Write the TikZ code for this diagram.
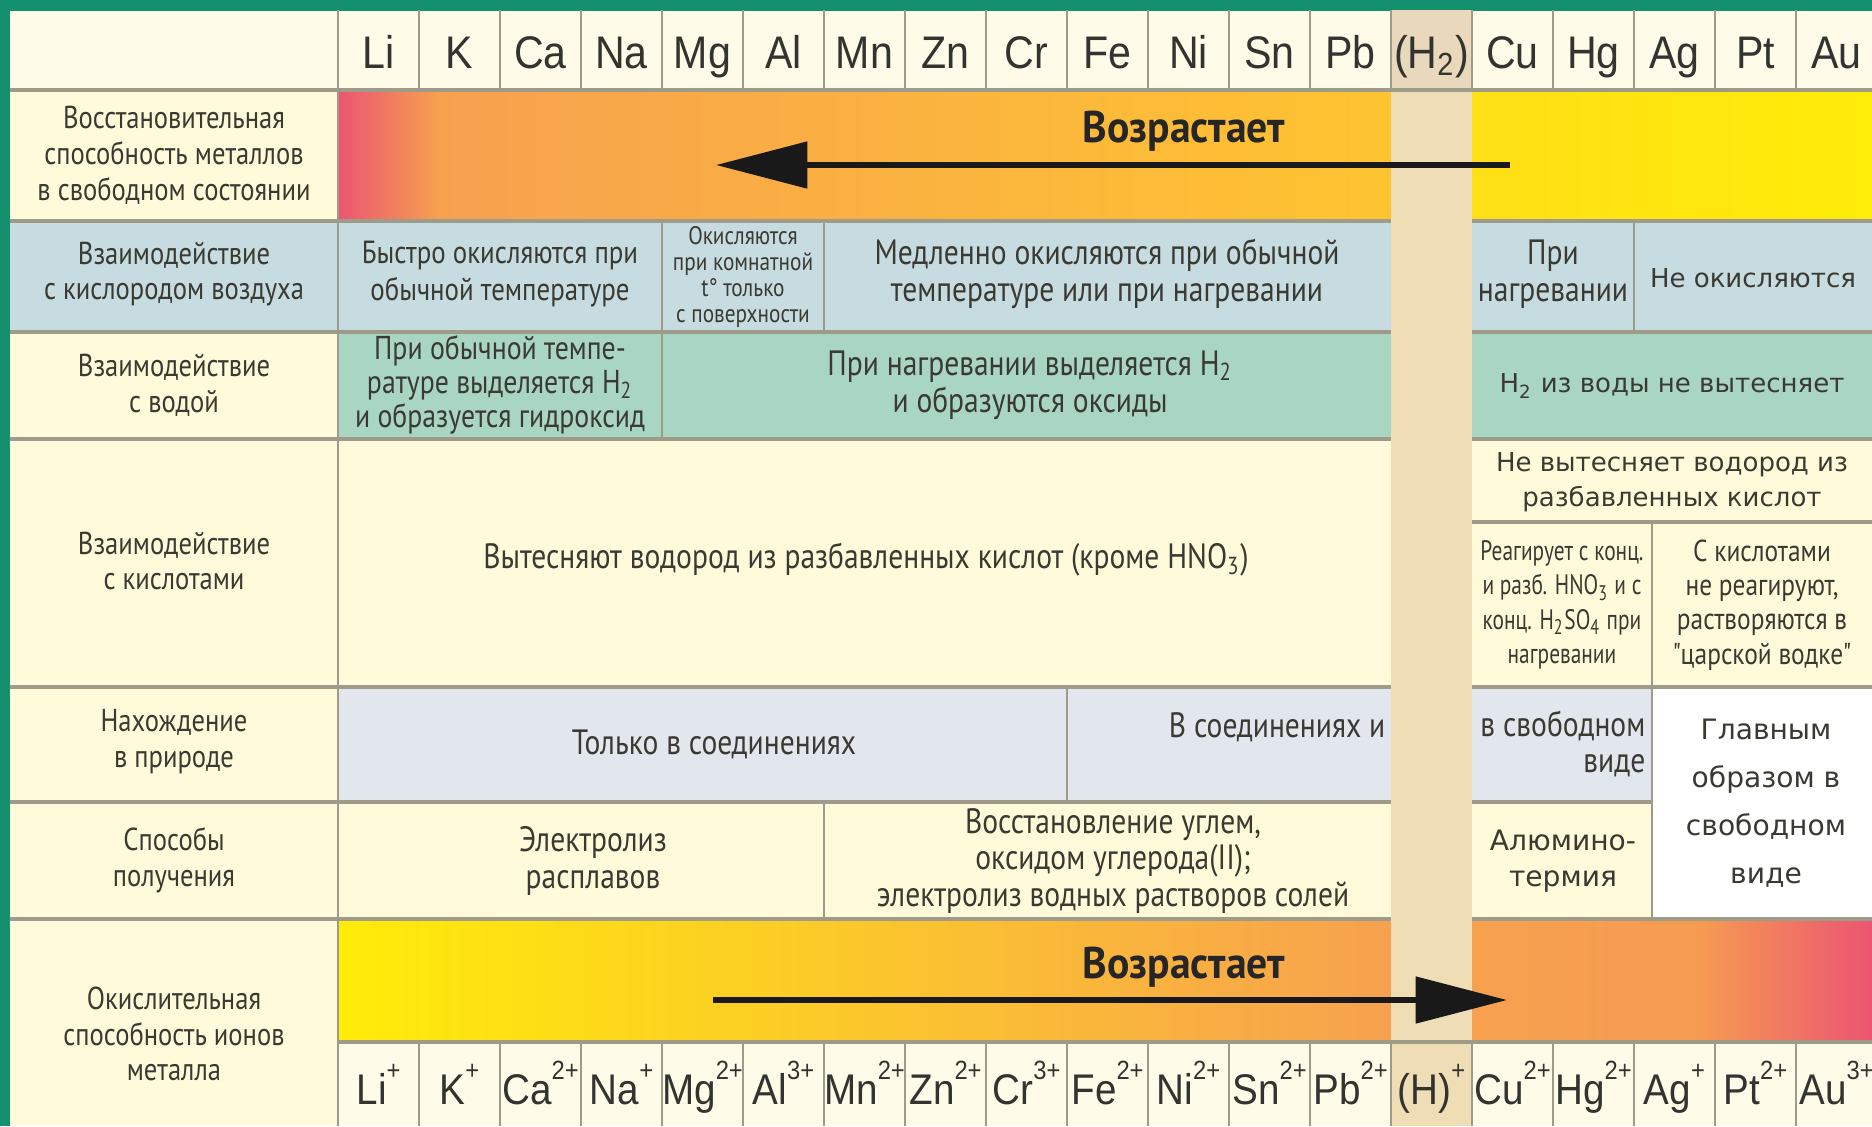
\documentclass[tikz,border=0pt]{standalone}
\usepackage{fontspec}
\setmainfont{PT Sans}
\newfontfamily\narrowfont[FakeStretch=0.84]{PT Sans}
\newfontfamily\tightfont[FakeStretch=0.76]{PT Sans}
\newfontfamily\risefont[FakeStretch=0.94]{PT Sans}
\newfontfamily\symfont[FakeStretch=0.9]{Liberation Sans}
\newfontfamily\widefont{DejaVu Sans}
\usetikzlibrary{arrows.meta}

\definecolor{framegreen}{HTML}{14906F}
\definecolor{framelight}{HTML}{B2D98A}
\definecolor{cream}{HTML}{FFFBDA}
\definecolor{headcream}{HTML}{FEFBE8}
\definecolor{airblue}{HTML}{C7DCE0}
\definecolor{watergreen}{HTML}{A9D5C3}
\definecolor{naturegray}{HTML}{E2E7ED}
\definecolor{hband}{HTML}{EEDDB5}
\definecolor{hcell}{HTML}{E9D8BB}
\definecolor{gridline}{HTML}{9E9B8A}
\definecolor{inktext}{HTML}{3B3A32}
\definecolor{elemtext}{HTML}{333330}
\definecolor{redstop}{HTML}{EB5572}
\definecolor{orangestop}{HTML}{F7A14F}
\definecolor{goldstop}{HTML}{FEC430}
\definecolor{lemonstop}{HTML}{FFDF16}
\definecolor{yellowstop}{HTML}{FFEC08}

\newcommand{\colW}[0]{81}
\newcommand{\ioncharge}[1]{\raisebox{7pt}{\fontsize{7.5}{7.5}\selectfont#1}}

\begin{document}
\begin{tikzpicture}[x=0.01cm, y=-0.01cm]
  \tikzset{
    cell/.style={align=center, inner sep=0pt, text=inktext,
      font=\narrowfont\fontsize{10}{10.4}\selectfont},
    rowlabel/.style={cell, font=\narrowfont\fontsize{9}{10.2}\selectfont},
    tinycell/.style={cell, font=\narrowfont\fontsize{7.2}{7.4}\selectfont},
    tightcell/.style={cell, font=\tightfont\fontsize{8}{9.8}\selectfont},
    widecell/.style={cell, font=\widefont\fontsize{7.4}{9.8}\selectfont},
    elem/.style={inner sep=0pt, anchor=base, text=elemtext,
      font=\symfont\fontsize{13}{13}\selectfont},
    ion/.style={elem, font=\symfont\fontsize{12.2}{12.2}\selectfont},
    risetext/.style={inner sep=0pt, text=black!85,
      font=\risefont\bfseries\fontsize{12.6}{13}\selectfont},
    bigarrow/.style={line width=1.7pt, black!90,
      -{Triangle[length=26pt, width=13pt]}},
    rowline/.style={gridline, line width=0.9pt},
    colline/.style={gridline, line width=0.5pt}
  }
  \useasboundingbox (0,0) rectangle (1872,1126);

  \fill[cream] (0,0) rectangle (1872,1126);
  \fill[headcream] (10,10) rectangle (1872,90);
  \fill[airblue] (10,221) rectangle (1872,332);
  \fill[watergreen] (338,332) rectangle (1872,439);
  \fill[naturegray] (338,687) rectangle (1652,802);
  \fill[white] (1652,687) rectangle (1872,919);
  \fill[headcream] (338,1042) rectangle (1872,1126);
  \fill[framegreen] (0,0) rectangle (10,1126);
  \shade[left color=framegreen, middle color=framelight, right color=framegreen] (0,0) rectangle (1872,10);

  \shade[left color=redstop, right color=orangestop] (338,90) rectangle (440,221);
  \shade[left color=orangestop, right color=goldstop] (440,90) rectangle (1391,221);
  \shade[left color=lemonstop, right color=yellowstop] (1472,90) rectangle (1872,221);
  \shade[left color=yellowstop, middle color=goldstop!80!yellowstop, right color=orangestop] (338,919) rectangle (1391,1042);
  \shade[left color=orangestop, right color=orangestop!92!redstop] (1472,919) rectangle (1700,1042);
  \shade[left color=orangestop!92!redstop, right color=redstop] (1700,919) rectangle (1872,1042);

  \foreach \y in {221,332,439,687,919}
    \draw[rowline] (10,\y) -- (1872,\y);
  \draw[rowline] (10,802) -- (1652,802);
  \draw[rowline] (1472,522) -- (1872,522);
  \draw[colline] (338,10) -- (338,1126);
  \draw[colline] (662,221) -- (662,439);
  \draw[colline] (824,221) -- (824,332);
  \draw[colline] (1634,221) -- (1634,332);
  \draw[colline] (1652,522) -- (1652,919);
  \draw[colline] (1067,687) -- (1067,802);
  \draw[colline] (824,802) -- (824,919);

  \fill[hband] (1391,90) rectangle (1472,1126);
  \fill[hcell] (1391,10) rectangle (1472,90);
  \draw[rowline] (10,90) -- (1872,90);
  \draw[rowline] (338,1042) -- (1872,1042);
  \foreach \i in {1,...,18} {
    \draw[colline] ({338+\colW*\i},10) -- ++(0,80);
    \draw[colline] ({338+\colW*\i},1042) -- ++(0,84);
  }

  \foreach \s [count=\i from 0] in {Li, K, Ca, Na, Mg, Al, Mn, Zn, Cr, Fe, Ni, Sn, Pb, {(H\textsubscript{2})}, Cu, Hg, Ag, Pt, Au}
    \node[elem] (el-\i) at ({378.5+\colW*\i},68) {\s};
  \foreach \s/\q [count=\i from 0] in {Li/+, K/+, Ca/2+, Na/+, Mg/2+, Al/3+, Mn/2+, Zn/2+, Cr/3+, Fe/2+, Ni/2+, Sn/2+, Pb/2+, {(H)}/+, Cu/2+, Hg/2+, Ag/+, Pt/2+, Au/3+}
    \node[ion] (ion-\i) at ({378.5+\colW*\i},1104) {\s\ioncharge{\q}};

  \node[rowlabel] (lab-red) at (174,155) {Восстановительная\\способность металлов\\в свободном состоянии};
  \node[rowlabel] (lab-air) at (174,274) {Взаимодействие\\с кислородом воздуха};
  \node[rowlabel] (lab-water) at (174,385) {Взаимодействие\\с водой};
  \node[rowlabel] (lab-acid) at (174,561) {Взаимодействие\\с кислотами};
  \node[rowlabel] (lab-nature) at (174,742) {Нахождение\\в природе};
  \node[rowlabel] (lab-make) at (174,860) {Способы\\получения};
  \node[rowlabel] (lab-ox) at (174,1034) {Окислительная\\способность ионов\\металла};

  \node[cell, font=\narrowfont\fontsize{9.1}{10.4}\selectfont] (air-fast) at (500,274) {Быстро окисляются при\\обычной температуре};
  \node[tinycell] (air-surf) at (743,277) {Окисляются\\при комнатной\\t° только\\с поверхности};
  \node[cell] (air-slow) at (1107,274) {Медленно окисляются при обычной\\температуре или при нагревании};
  \node[cell] (air-heat) at (1553,274) {При\\нагревании};
  \node[widecell] (air-none) at (1753,278) {Не окисляются};

  \node[cell, font=\narrowfont\fontsize{9.4}{8.3}\selectfont] (water-cold) at (500,385) {При обычной темпе-\\ратуре выделяется H\textsubscript{2}\\и образуется гидроксид};
  \node[cell] (water-hot) at (1030,385) {При нагревании выделяется H\textsubscript{2}\\и образуются оксиды};
  \node[widecell] (water-none) at (1672,386) {H\textsubscript{2} из воды не вытесняет};

  \node[cell] (acid-yes) at (866,560) {Вытесняют водород из разбавленных кислот (кроме HNO\textsubscript{3})};
  \node[widecell] (acid-no) at (1672,482) {Не вытесняет водород из\\разбавленных кислот};
  \node[tightcell] (acid-conc) at (1562,605) {Реагирует с конц.\\и разб. HNO\textsubscript{3} и с\\конц. H\textsubscript{2}SO\textsubscript{4} при\\нагревании};
  \node[cell, font=\narrowfont\fontsize{8.6}{9.8}\selectfont] (acid-aqua) at (1762,605) {С кислотами\\не реагируют,\\растворяются в\\"царской водке"};

  \node[cell] (nat-comp) at (714,744) {Только в соединениях};
  \node[cell, anchor=east] (nat-both) at (1386,727) {В соединениях и};
  \node[cell, align=right, anchor=east] (nat-free) at (1646,744) {в свободном\\виде};
  \node[widecell, font=\widefont\fontsize{8}{13.6}\selectfont] (nat-main) at (1766,803) {Главным\\образом в\\свободном\\виде};

  \node[cell] (make-melt) at (593,861) {Электролиз\\расплавов};
  \node[cell] (make-red) at (1113,861) {Восстановление углем,\\оксидом углерода(II);\\электролиз водных растворов солей};
  \node[widecell, font=\widefont\fontsize{8}{10.4}\selectfont] (make-al) at (1563,861) {Алюмино-\\термия};

  \node[risetext] (rise-top) at (1184,131) {Возрастает};
  \node[risetext] (rise-bot) at (1184,967) {Возрастает};
  \coordinate (top-from) at (1510,165);
  \coordinate (top-to) at (716,165);
  \coordinate (bot-from) at (713,1000);
  \coordinate (bot-to) at (1507,1000);
  \draw[bigarrow] (top-from) -- (top-to);
  \draw[bigarrow] (bot-from) -- (bot-to);
\end{tikzpicture}
\end{document}
